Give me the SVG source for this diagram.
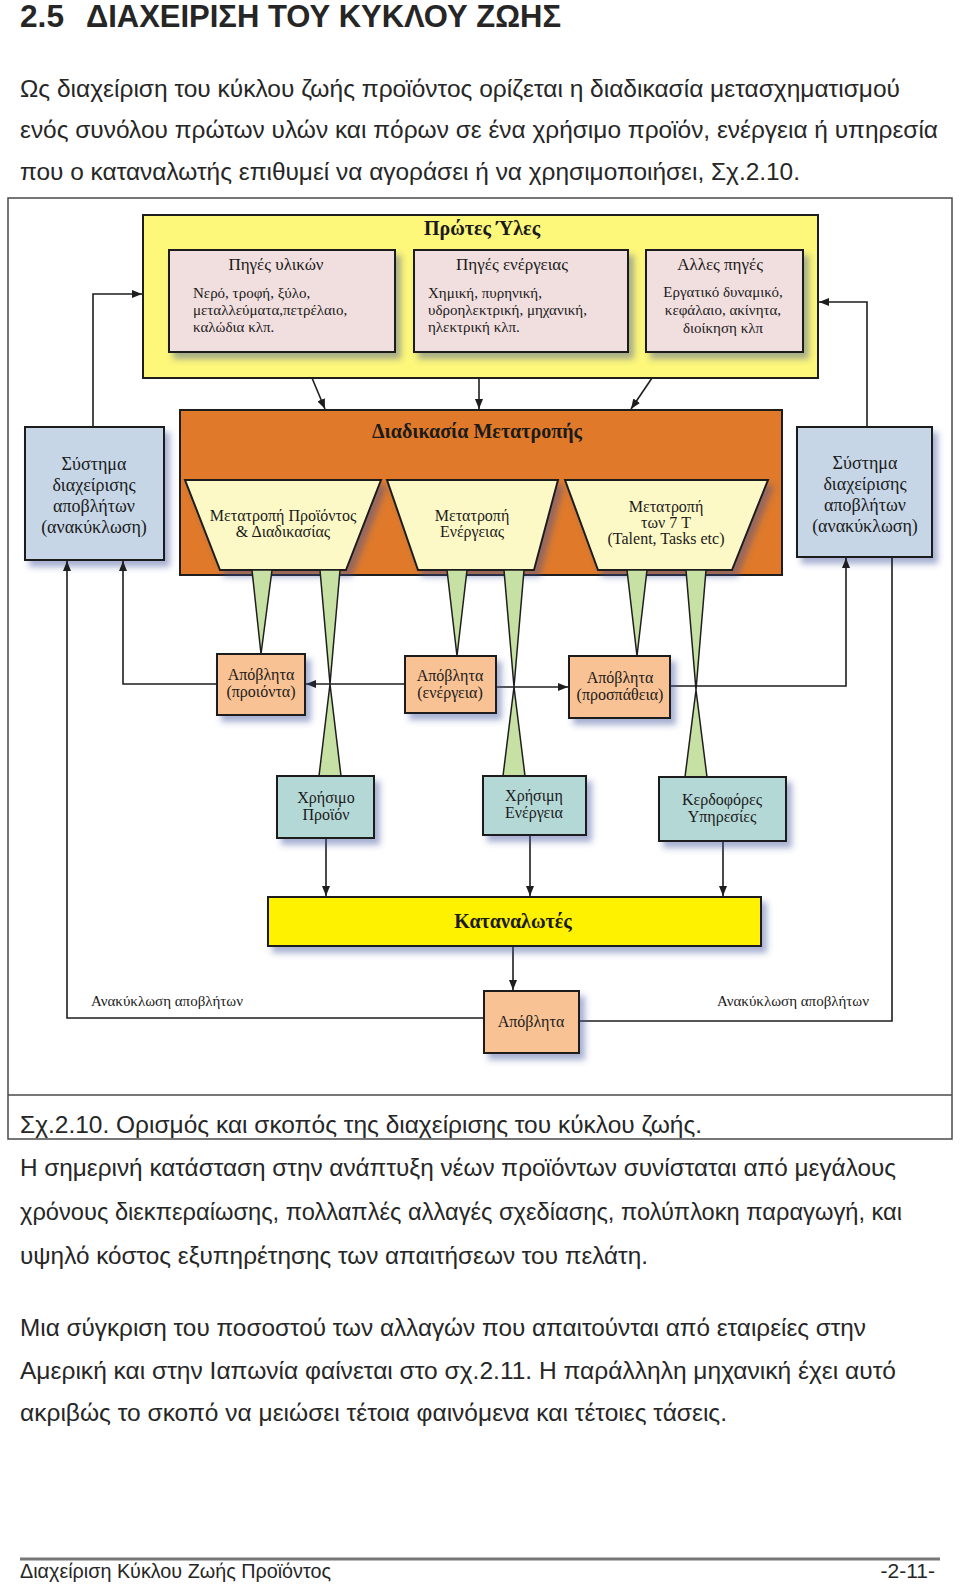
<svg xmlns="http://www.w3.org/2000/svg" width="960" height="1586" viewBox="0 0 960 1586">
<defs>
<style>
.sans{font-family:'Liberation Sans Narrow','Liberation Sans',Arial,sans-serif;fill:#262626}
.serif{font-family:'Liberation Serif','Times New Roman',serif;fill:#1a1a1a}
.box{stroke:#1e1e1e;stroke-width:2}
.ln{fill:none;stroke:#1e1e1e;stroke-width:1.6}
.fun{fill:#c6e1a3;stroke:#1e1e1e;stroke-width:1.5;stroke-linejoin:miter}
.pink{fill:#f1dfdf}
.peach{fill:#f8c294}
.teal{fill:#b4d8d6}
.blue{fill:#c6d6e6}
.trap{fill:#fdf9c6}
</style>
<filter id="sh" x="-20%" y="-20%" width="150%" height="160%">
<feDropShadow dx="5" dy="6" stdDeviation="3" flood-color="#3b4f9a" flood-opacity="0.45"/>
</filter>
<marker id="ah" markerWidth="10" markerHeight="8" refX="10" refY="4" orient="auto" markerUnits="userSpaceOnUse">
<path d="M0,0 L10,4 L0,8 z" fill="#1e1e1e"/>
</marker>
</defs>
<rect x="0" y="0" width="960" height="1586" fill="#ffffff"/>

<g id="heading">
<text class="sans" x="20" y="27" font-size="31" font-weight="bold" textLength="44" lengthAdjust="spacingAndGlyphs">2.5</text>
<text class="sans" x="86" y="27" font-size="31" font-weight="bold" textLength="475" lengthAdjust="spacingAndGlyphs">ΔΙΑΧΕΙΡΙΣΗ ΤΟΥ ΚΥΚΛΟΥ ΖΩΗΣ</text>
<text class="sans" x="20" y="97" font-size="24" textLength="880" lengthAdjust="spacingAndGlyphs">Ως διαχείριση του κύκλου ζωής προϊόντος ορίζεται η διαδικασία μετασχηματισμού</text>
<text class="sans" x="20" y="138" font-size="24" textLength="918" lengthAdjust="spacingAndGlyphs">ενός συνόλου πρώτων υλών και πόρων σε ένα χρήσιμο προϊόν, ενέργεια ή υπηρεσία</text>
<text class="sans" x="20" y="180" font-size="24" textLength="780" lengthAdjust="spacingAndGlyphs">που ο καταναλωτής επιθυμεί να αγοράσει ή να χρησιμοποιήσει, Σχ.2.10.</text>
</g>

<g id="frame">
<rect x="8" y="198" width="944" height="941" fill="none" stroke="#4a4a4a" stroke-width="1.5"/>
<line x1="8" y1="1095" x2="952" y2="1095" stroke="#4a4a4a" stroke-width="1.5"/>
<text class="sans" x="20" y="1133" font-size="23" textLength="682" lengthAdjust="spacingAndGlyphs">Σχ.2.10. Ορισμός και σκοπός της διαχείρισης του κύκλου ζωής.</text>
</g>

<g id="raw-materials">
<rect x="143" y="215" width="675" height="163" fill="#fdf77a" class="box"/>
<text class="serif" x="482" y="235" font-size="20" font-weight="bold" text-anchor="middle">Πρώτες Ύλες</text>
</g>
<g id="src-materials">
<rect x="169" y="250" width="226" height="102" class="box pink" filter="url(#sh)"/>
<text class="serif" x="276" y="270" font-size="17" text-anchor="middle">Πηγές υλικών</text>
<text class="serif" x="193" y="298" font-size="15">Νερό, τροφή, ξύλο,</text>
<text class="serif" x="193" y="315" font-size="15">μεταλλεύματα,πετρέλαιο,</text>
<text class="serif" x="193" y="332" font-size="15">καλώδια κλπ.</text>
</g>
<g id="src-energy">
<rect x="414" y="250" width="214" height="102" class="box pink" filter="url(#sh)"/>
<text class="serif" x="512" y="270" font-size="17" text-anchor="middle">Πηγές ενέργειας</text>
<text class="serif" x="428" y="298" font-size="15">Χημική, πυρηνική,</text>
<text class="serif" x="428" y="315" font-size="15">υδροηλεκτρική, μηχανική,</text>
<text class="serif" x="428" y="332" font-size="15">ηλεκτρική κλπ.</text>
</g>
<g id="src-other">
<rect x="646" y="250" width="157" height="102" class="box pink" filter="url(#sh)"/>
<text class="serif" x="720" y="270" font-size="17" text-anchor="middle">Αλλες πηγές</text>
<text class="serif" x="723" y="297" font-size="15" text-anchor="middle">Εργατικό δυναμικό,</text>
<text class="serif" x="723" y="315" font-size="15" text-anchor="middle">κεφάλαιο, ακίνητα,</text>
<text class="serif" x="723" y="333" font-size="15" text-anchor="middle">διοίκηση κλπ</text>
</g>

<g id="conversion">
<rect x="180" y="410" width="602" height="165" fill="#e07a2a" class="box"/>
<text class="serif" x="477" y="438" font-size="20" font-weight="bold" text-anchor="middle">Διαδικασία Μετατροπής</text>
</g>
<g id="conv-product">
<polygon points="185,480 381,480 346,570 220,570" class="box trap" filter="url(#sh)"/>
<text class="serif" x="283" y="521" font-size="16" text-anchor="middle">Μετατροπή Προϊόντος</text>
<text class="serif" x="283" y="537" font-size="16" text-anchor="middle">&amp; Διαδικασίας</text>
</g>
<g id="conv-energy">
<polygon points="387,480 558,480 534,570 418,570" class="box trap" filter="url(#sh)"/>
<text class="serif" x="472" y="521" font-size="16" text-anchor="middle">Μετατροπή</text>
<text class="serif" x="472" y="537" font-size="16" text-anchor="middle">Ενέργειας</text>
</g>
<g id="conv-7t">
<polygon points="565,480 768,480 732,570 598,570" class="box trap" filter="url(#sh)"/>
<text class="serif" x="666" y="512" font-size="16" text-anchor="middle">Μετατροπή</text>
<text class="serif" x="666" y="528" font-size="16" text-anchor="middle">των 7 T</text>
<text class="serif" x="666" y="544" font-size="16" text-anchor="middle">(Talent, Tasks etc)</text>
</g>

<g id="waste-mgmt-left">
<rect x="25" y="427" width="139" height="133" class="box blue" filter="url(#sh)"/>
<text class="serif" x="94" y="470" font-size="18" text-anchor="middle">Σύστημα</text>
<text class="serif" x="94" y="491" font-size="18" text-anchor="middle">διαχείρισης</text>
<text class="serif" x="94" y="512" font-size="18" text-anchor="middle">αποβλήτων</text>
<text class="serif" x="94" y="533" font-size="18" text-anchor="middle">(ανακύκλωση)</text>
</g>
<g id="waste-mgmt-right">
<rect x="797" y="427" width="135" height="130" class="box blue" filter="url(#sh)"/>
<text class="serif" x="865" y="469" font-size="18" text-anchor="middle">Σύστημα</text>
<text class="serif" x="865" y="490" font-size="18" text-anchor="middle">διαχείρισης</text>
<text class="serif" x="865" y="511" font-size="18" text-anchor="middle">αποβλήτων</text>
<text class="serif" x="865" y="532" font-size="18" text-anchor="middle">(ανακύκλωση)</text>
</g>

<g id="connectors">
<polygon class="fun" points="252,570 272,570 261,654"/>
<polygon class="fun" points="320,570 340,570 330,684"/>
<polygon class="fun" points="330,684 341,776 319,776"/>
<polygon class="fun" points="447,570 467,570 457,656"/>
<polygon class="fun" points="504,570 524,570 514,687"/>
<polygon class="fun" points="514,687 525,776 503,776"/>
<polygon class="fun" points="627,570 647,570 637,656"/>
<polygon class="fun" points="686,570 706,570 696,690"/>
<polygon class="fun" points="696,690 707,777 685,777"/>
<path class="ln" d="M312,378 L325,409" marker-end="url(#ah)"/>
<path class="ln" d="M479,378 L479,409" marker-end="url(#ah)"/>
<path class="ln" d="M652,378 L631,409" marker-end="url(#ah)"/>
<path class="ln" d="M93,427 V294 H142" marker-end="url(#ah)"/>
<path class="ln" d="M867,427 V302 H819" marker-end="url(#ah)"/>
<path class="ln" d="M217,684 H123 V561" marker-end="url(#ah)"/>
<path class="ln" d="M405,684 H306" marker-end="url(#ah)"/>
<path class="ln" d="M496,687 H568" marker-end="url(#ah)"/>
<path class="ln" d="M670,686 H846 V558" marker-end="url(#ah)"/>
<path class="ln" d="M326,838 V896" marker-end="url(#ah)"/>
<path class="ln" d="M530,835 V896" marker-end="url(#ah)"/>
<path class="ln" d="M723,841 V896" marker-end="url(#ah)"/>
<path class="ln" d="M513,946 V990" marker-end="url(#ah)"/>
<path class="ln" d="M484,1018 H67 V561" marker-end="url(#ah)"/>
<path class="ln" d="M579,1021 H892 V557"/>
<text class="serif" x="91" y="1006" font-size="15">Ανακύκλωση αποβλήτων</text>
<text class="serif" x="717" y="1006" font-size="15">Ανακύκλωση αποβλήτων</text>
</g>

<g id="waste-products">
<rect x="217" y="654" width="88" height="61" class="box peach" filter="url(#sh)"/>
<text class="serif" x="261" y="680" font-size="16" text-anchor="middle">Απόβλητα</text>
<text class="serif" x="261" y="697" font-size="16" text-anchor="middle">(προιόντα)</text>
</g>
<g id="waste-energy">
<rect x="405" y="656" width="91" height="57" class="box peach" filter="url(#sh)"/>
<text class="serif" x="450" y="681" font-size="16" text-anchor="middle">Απόβλητα</text>
<text class="serif" x="450" y="698" font-size="16" text-anchor="middle">(ενέργεια)</text>
</g>
<g id="waste-effort">
<rect x="569" y="656" width="101" height="62" class="box peach" filter="url(#sh)"/>
<text class="serif" x="620" y="683" font-size="16" text-anchor="middle">Απόβλητα</text>
<text class="serif" x="620" y="700" font-size="16" text-anchor="middle">(προσπάθεια)</text>
</g>

<g id="useful-product">
<rect x="277" y="776" width="97" height="62" class="box teal" filter="url(#sh)"/>
<text class="serif" x="326" y="803" font-size="16" text-anchor="middle">Χρήσιμο</text>
<text class="serif" x="326" y="820" font-size="16" text-anchor="middle">Προϊόν</text>
</g>
<g id="useful-energy">
<rect x="483" y="776" width="103" height="59" class="box teal" filter="url(#sh)"/>
<text class="serif" x="534" y="801" font-size="16" text-anchor="middle">Χρήσιμη</text>
<text class="serif" x="534" y="818" font-size="16" text-anchor="middle">Ενέργεια</text>
</g>
<g id="services">
<rect x="659" y="777" width="127" height="64" class="box teal" filter="url(#sh)"/>
<text class="serif" x="722" y="805" font-size="16" text-anchor="middle">Κερδοφόρες</text>
<text class="serif" x="722" y="822" font-size="16" text-anchor="middle">Υπηρεσίες</text>
</g>

<g id="consumers">
<rect x="268" y="897" width="493" height="49" fill="#fff200" class="box" filter="url(#sh)"/>
<text class="serif" x="513" y="928" font-size="20" font-weight="bold" text-anchor="middle">Καταναλωτές</text>
</g>
<g id="waste">
<rect x="484" y="991" width="95" height="62" class="box peach" filter="url(#sh)"/>
<text class="serif" x="531" y="1027" font-size="16" text-anchor="middle">Απόβλητα</text>
</g>

<g id="body-text">
<text class="sans" x="20" y="1176" font-size="24" textLength="876" lengthAdjust="spacingAndGlyphs">Η σημερινή κατάσταση στην ανάπτυξη νέων προϊόντων συνίσταται από μεγάλους</text>
<text class="sans" x="20" y="1220" font-size="24" textLength="882" lengthAdjust="spacingAndGlyphs">χρόνους διεκπεραίωσης, πολλαπλές αλλαγές σχεδίασης, πολύπλοκη παραγωγή, και</text>
<text class="sans" x="20" y="1264" font-size="24" textLength="628" lengthAdjust="spacingAndGlyphs">υψηλό κόστος εξυπηρέτησης των απαιτήσεων του πελάτη.</text>
<text class="sans" x="20" y="1336" font-size="24" textLength="846" lengthAdjust="spacingAndGlyphs">Μια σύγκριση του ποσοστού των αλλαγών που απαιτούνται από εταιρείες στην</text>
<text class="sans" x="20" y="1379" font-size="24" textLength="876" lengthAdjust="spacingAndGlyphs">Αμερική και στην Ιαπωνία φαίνεται στο σχ.2.11. Η παράλληλη μηχανική έχει αυτό</text>
<text class="sans" x="20" y="1421" font-size="24" textLength="707" lengthAdjust="spacingAndGlyphs">ακριβώς το σκοπό να μειώσει τέτοια φαινόμενα και τέτοιες τάσεις.</text>
</g>

<g id="footer">
<line x1="20" y1="1559" x2="940" y2="1559" stroke="#777777" stroke-width="3"/>
<text class="sans" x="20" y="1578" font-size="21" textLength="311" lengthAdjust="spacingAndGlyphs">Διαχείριση Κύκλου Ζωής Προϊόντος</text>
<text class="sans" x="935" y="1578" font-size="21" text-anchor="end">-2-11-</text>
</g>
</svg>
